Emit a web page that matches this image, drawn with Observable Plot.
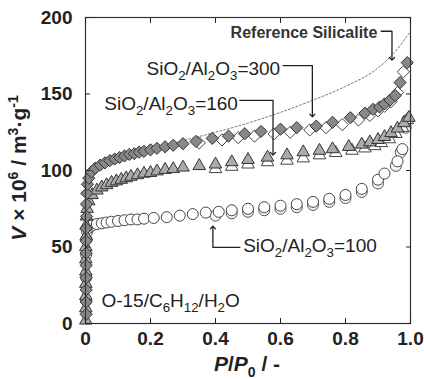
<!DOCTYPE html>
<html><head><meta charset="utf-8">
<script src="https://cdn.jsdelivr.net/npm/d3@7"></script>
<script src="https://cdn.jsdelivr.net/npm/@observablehq/plot@0.6"></script>
<style>body{margin:0;background:#fff} svg{display:block}</style>
</head><body><div id="chart"></div>
<script>
// ---- data ----
// SiO2/Al2O3 = 300 (diamonds)
const P300a = [0.002,0.002,0.002,0.002,0.002,0.002,0.002,0.002,0.003,0.003,0.004,0.006,0.01,0.018,0.03,0.045,0.06,0.075,0.09,0.105,0.12,0.135,0.15,0.165,0.18,0.2,0.22,0.245,0.27,0.3,0.34,0.39,0.44,0.49,0.54,0.6,0.65,0.71,0.76,0.815,0.86,0.885,0.905,0.92,0.937,0.953,0.968,0.99];
const V300a = [6,14,22,30,38,46,54,62,70,78,85,91,95,99,101.5,103.5,105,106.5,107.5,108.5,109.5,110.5,111,112,112.5,113.5,114.5,115.5,116.5,117.5,119,121,122.5,124,125.5,127,128,129,131.5,134.5,137.5,140,141.5,143.5,146,149,157.5,170.5];
const P300d = [0.35,0.42,0.47,0.52,0.58,0.63,0.69,0.74,0.79,0.84,0.875,0.9,0.92,0.94,0.96,0.978];
const V300d = [118,120,121.5,122.5,124,125,126.5,128,130,133,136,139,142,145,151,164.5];
// SiO2/Al2O3 = 160 (triangles)
const P160a = [0.001,0.001,0.001,0.001,0.001,0.001,0.001,0.002,0.002,0.003,0.005,0.01,0.02,0.035,0.05,0.065,0.08,0.095,0.11,0.125,0.14,0.16,0.18,0.2,0.22,0.245,0.27,0.3,0.35,0.4,0.45,0.5,0.56,0.62,0.67,0.72,0.76,0.81,0.85,0.875,0.9,0.92,0.94,0.96,0.98,0.995];
const V160a = [2,10,18,26,34,42,50,57,64,70,75,80,84,87,89,90.5,92,93,94,95,96,97,98,98.5,99.5,100.5,101,102,103,104,105.5,107,108.5,110,112,113,114,115.5,117,118.5,120,122,124.5,127.5,131,134.5];
const P160d = [0.4,0.45,0.5,0.56,0.62,0.67,0.72,0.77,0.82,0.86,0.89,0.91,0.935,0.955,0.975,0.99];
const V160d = [101,102.5,104,105.5,106.5,108,110,111.5,113,114.5,116,118,120.5,124,128,133];
// SiO2/Al2O3 = 100 (circles)
const P100a = [0.002,0.002,0.002,0.003,0.005,0.01,0.02,0.035,0.05,0.065,0.08,0.1,0.12,0.14,0.16,0.18,0.21,0.25,0.29,0.33,0.37,0.41,0.45,0.5,0.55,0.6,0.65,0.7,0.75,0.8,0.85,0.9,0.92,0.96,0.975,0.99];
const V100a = [15,30,45,55,60,62.5,64,65,65.5,66,66.5,67,67.5,68,68,68.5,69,69.5,70.5,71.5,72.5,73,74,75,76,77,78,79.5,81.5,84,88,94,98,106,114,133];
const P100d = [0.4,0.45,0.5,0.55,0.6,0.65,0.7,0.75,0.8,0.85,0.9,0.955,0.97,0.985];
const V100d = [70.5,72,73,74,75,76,77.5,79.5,82,86,91.5,103,112,128];
// Reference silicalite (dotted curve)
const Pref = [0.005,0.05,0.1,0.2,0.3,0.4,0.5,0.6,0.7,0.8,0.9,0.95,1.0];
const Vref = [98,104,108,114,119.5,125,131,138,146,155,167,177,191];
// ticks
const xTicks = [0,0.2,0.4,0.6,0.8,1.0];
const yTicks = [0,50,100,150,200];
// annotations
const noteText = ["Reference Silicalite","SiO_2/Al_2O_3=300","SiO_2/Al_2O_3=160","SiO_2/Al_2O_3=100","O-15/C_6H_12/H_2O"];
const noteP = [0.898,0.599,0.469,0.485,0.049];
const noteV = [190,166.7,143.8,51,15];
const noteAnchor = ["end","end","end","start","start"];
const leadRefP = [0.91,0.943,0.943],   leadRefV = [191,191,173];
const lead300P = [0.608,0.698,0.698],  lead300V = [168.6,168.6,136];
const lead160P = [0.475,0.577,0.577],  lead160V = [145.8,145.8,111];
const lead100P = [0.475,0.392,0.392],  lead100V = [49.7,49.7,62.7];

// ---- build ----
const rows = (P, V) => P.map((p, i) => ({P: p, V: V[i]}));
const notes = noteText.map((t, i) => ({t, P: noteP[i], V: noteV[i], a: noteAnchor[i]}));
const lead = (P, V) => Plot.line(rows(P, V), {x: "P", y: "V", stroke: "#222", strokeWidth: 1.3, markerEnd: "arrow"});
const FS = 19;

const plot = Plot.plot({
  width: 424, height: 379,
  marginLeft: 85, marginRight: 14, marginTop: 17, marginBottom: 56,
  x: {domain: [0, 1]},
  y: {domain: [0, 200]},
  style: {fontFamily: "'Liberation Sans', Arial, sans-serif", background: "#fff", color: "#222"},
  marks: [
    Plot.line(rows(Pref, Vref), {x: "P", y: "V", stroke: "#777", strokeWidth: 1, strokeDasharray: "2,2", curve: "monotone-x"}),
    Plot.dot(rows(P100d, V100d), {x: "P", y: "V", symbol: "circle", r: 5.5, fill: "#f4f4f4", stroke: "#555", strokeWidth: 1}),
    Plot.dot(rows(P100a, V100a), {x: "P", y: "V", symbol: "circle", r: 5.5, fill: "#fff", stroke: "#444", strokeWidth: 1}),
    Plot.dot(rows(P160d, V160d), {x: "P", y: "V", symbol: "triangle2", r: 6, fill: "#fff", stroke: "#444", strokeWidth: 1}),
    Plot.dot(rows(P160a, V160a), {x: "P", y: "V", symbol: "triangle2", r: 6, fill: "#aaa", stroke: "#333", strokeWidth: 1}),
    Plot.dot(rows(P300d, V300d), {x: "P", y: "V", symbol: "diamond2", r: 5.5, fill: "#fff", stroke: "#444", strokeWidth: 1}),
    Plot.dot(rows(P300a, V300a), {x: "P", y: "V", symbol: "diamond2", r: 5.5, fill: "#888", stroke: "#333", strokeWidth: 1}),
    Plot.frame({stroke: "#333", strokeWidth: 1.2}),
    Plot.axisX({anchor: "bottom", ticks: xTicks, tickSize: -5, tickPadding: 13, tickFormat: d => d === 0 ? "0" : d.toFixed(1), fontSize: FS, fontWeight: "bold", label: null}),
    Plot.axisX({anchor: "top", ticks: xTicks, tickSize: -5, tickFormat: () => "", label: null}),
    Plot.axisY({anchor: "left", ticks: yTicks, tickSize: -5, tickPadding: 18, fontSize: FS, fontWeight: "bold", label: null}),
    Plot.axisY({anchor: "right", ticks: yTicks, tickSize: -5, tickFormat: () => "", label: null}),
    lead(leadRefP, leadRefV), lead(lead300P, lead300V), lead(lead160P, lead160V), lead(lead100P, lead100V),
    Plot.text(notes.filter((d, i) => i === 0), {x: "P", y: "V", text: "t", textAnchor: "end", fontSize: 16, fontWeight: "bold", fill: "#333"}),
    Plot.text(notes.filter((d, i) => i > 0 && d.a === "end"), {x: "P", y: "V", text: "t", textAnchor: "end", fontSize: FS, fill: "#222"}),
    Plot.text(notes.filter((d, i) => i > 0 && d.a === "start"), {x: "P", y: "V", text: "t", textAnchor: "start", fontSize: FS, fill: "#222"})
  ]
});
document.getElementById("chart").appendChild(plot);

// subscripts: "X_2" -> X with subscript 2
const svg = d3.select(plot);
svg.selectAll("text").each(function() {
  const s = this.textContent;
  if (!s.includes("_")) return;
  const fs = parseFloat(d3.select(this.parentNode).attr("font-size")) || FS;
  const sel = d3.select(this);
  sel.text("");
  const parts = s.split(/(_\d+)/).filter(p => p !== "");
  let shifted = false;
  const sh = fs * 0.3;
  parts.forEach(p => {
    if (p.startsWith("_")) {
      sel.append("tspan").attr("font-size", fs * 0.7).attr("dy", shifted ? 0 : sh).text(p.slice(1));
      shifted = true;
    } else {
      sel.append("tspan").attr("dy", shifted ? -sh : 0).text(p);
      shifted = false;
    }
  });
});

// axis titles
const xt = svg.append("text").attr("x", 247).attr("y", 371).attr("text-anchor", "middle")
  .attr("font-size", 21).attr("font-weight", "bold").attr("fill", "#222");
xt.append("tspan").attr("font-style", "italic").text("P");
xt.append("tspan").text("/");
xt.append("tspan").attr("font-style", "italic").text("P");
xt.append("tspan").attr("font-size", 14).attr("dy", 6).text("0");
xt.append("tspan").attr("dy", -6).text(" / -");

const yt = svg.append("text").attr("transform", "translate(26,168) rotate(-90)").attr("text-anchor", "middle")
  .attr("font-size", 21).attr("font-weight", "bold").attr("fill", "#222");
yt.append("tspan").attr("font-style", "italic").text("V");
yt.append("tspan").text(" × 10");
yt.append("tspan").attr("font-size", 14).attr("dy", -8).text("6");
yt.append("tspan").attr("dy", 8).text(" / m");
yt.append("tspan").attr("font-size", 14).attr("dy", -8).text("3");
yt.append("tspan").attr("dy", 8).text("·g");
yt.append("tspan").attr("font-size", 14).attr("dy", -8).text("-1");
</script></body></html>
